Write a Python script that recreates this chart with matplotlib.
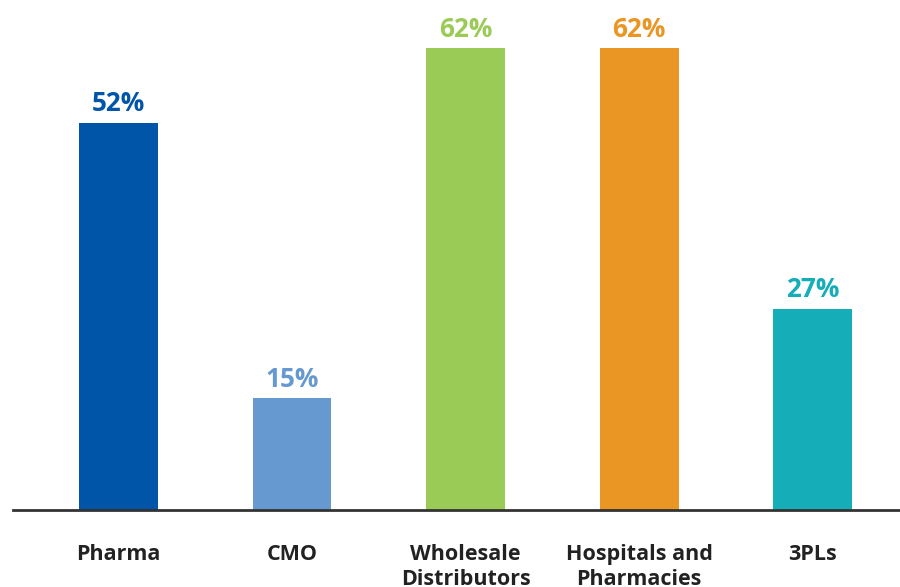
import matplotlib
matplotlib.use("Agg")
import matplotlib.pyplot as plt

categories = ["Pharma", "CMO", "Wholesale\nDistributors", "Hospitals and\nPharmacies", "3PLs"]
values = [52, 15, 62, 62, 27]
colors = ["#0055A9", "#6699D0", "#9BCB57", "#EA9624", "#14ADB8"]

plt.rcParams["font.family"] = ["Open Sans", "DejaVu Sans"]

fig = plt.figure(figsize=(9, 5.87), dpi=100)
ax = fig.add_axes([13 / 900, 77 / 587, 887 / 900, 510 / 587])

x = range(len(categories))
ax.bar(x, values, width=0.455, color=colors, zorder=2)

# value labels above each bar
for i, v in enumerate(values):
    ax.annotate(f"{v}%", (i, v), xytext=(0, 4), textcoords="offset points",
                ha="center", va="bottom", fontsize=18.8, fontweight="bold", color=colors[i])

ax.set_xlim(-0.608, 4.504)
ax.set_ylim(0, 68.46)

ax.set_xticks(list(x))
ax.set_xticklabels(categories, fontsize=15.5, fontweight="bold", color="#222222",
                   linespacing=1.22, va="top")
ax.tick_params(axis="x", length=0, pad=24.5)
ax.set_yticks([])

for s in ["top", "right", "left"]:
    ax.spines[s].set_visible(False)
ax.spines["bottom"].set_color("#333333")
ax.spines["bottom"].set_linewidth(2)
ax.spines["bottom"].set_zorder(3)

fig.savefig("out.png", dpi=100)
